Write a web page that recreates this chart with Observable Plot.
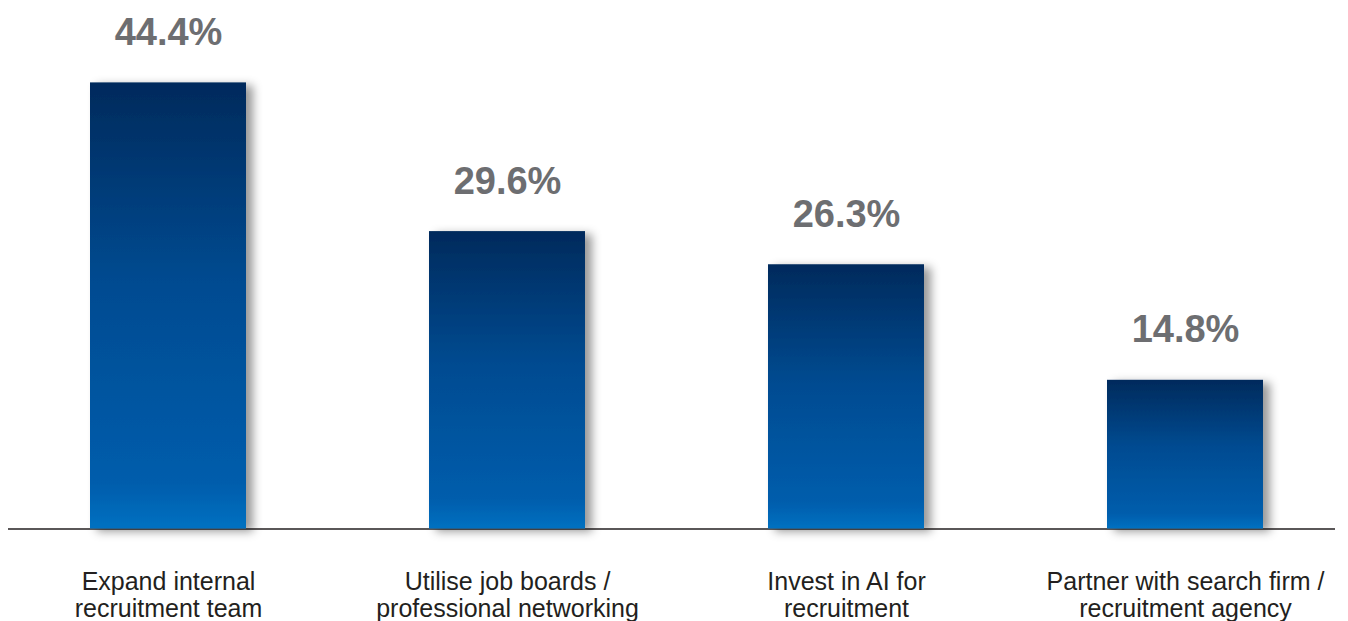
<!DOCTYPE html>
<html>
<head>
<meta charset="utf-8">
<script src="https://cdn.jsdelivr.net/npm/d3@7"></script>
<script src="https://cdn.jsdelivr.net/npm/@observablehq/plot@0.6"></script>
<style>
  html, body { margin: 0; padding: 0; background: #fff; }
  #chart svg { display: block; }
</style>
</head>
<body>
<div id="chart"></div>
<script>
const categories = [
  "Expand internal\nrecruitment team",
  "Utilise job boards /\nprofessional networking",
  "Invest in AI for\nrecruitment",
  "Partner with search firm /\nrecruitment agency"
];
const values = [44.4, 29.6, 26.3, 14.8];
const valueLabels = ["44.4%", "29.6%", "26.3%", "14.8%"];

const data = categories.map((c, i) => ({category: c, value: values[i], label: valueLabels[i]}));

const svg = Plot.plot({
  width: 1348,
  height: 621,
  marginTop: 0,
  marginBottom: 92.5,
  marginLeft: 8,
  marginRight: 13,
  style: {fontFamily: "'Liberation Sans', Arial, sans-serif", background: "#fff"},
  x: {domain: categories, range: [-2.75, 1355.25], paddingInner: 0.54, paddingOuter: 0.27, label: null},
  y: {domain: [0, 52.6], axis: null},
  marks: [
    Plot.ruleY([0], {stroke: "#231f20", strokeWidth: 1.5}),
    Plot.barY(data, {x: "category", y: "value", fill: "#004a8f"}),
    Plot.text(data, {x: "category", y: "value", text: "label", lineAnchor: "bottom", dy: -38,
      fontSize: 38, fontWeight: "bold", fill: "#6d6e71"}),
    Plot.axisX({tickSize: 0, tickPadding: 42, fontSize: 25, lineHeight: 1.08, fill: "#231f20", label: null})
  ]
});

// gradient + shadow defs
const ns = "http://www.w3.org/2000/svg";
const defs = document.createElementNS(ns, "defs");
defs.innerHTML = `
  <linearGradient id="barGrad" x1="0" y1="0" x2="0" y2="1">
    <stop offset="0" stop-color="#002a5c"/>
    <stop offset="0.45" stop-color="#004b91"/>
    <stop offset="0.9" stop-color="#005dac"/>
    <stop offset="1" stop-color="#0071c1"/>
  </linearGradient>
  <filter id="barShadow" x="-20%" y="-20%" width="150%" height="150%">
    <feDropShadow dx="7" dy="3" stdDeviation="5" flood-color="#000" flood-opacity="0.4"/>
  </filter>`;
svg.insertBefore(defs, svg.firstChild);
const barGroup = svg.querySelector('g[aria-label="bar"]');
if (barGroup) {
  barGroup.setAttribute("filter", "url(#barShadow)");
  barGroup.setAttribute("fill", "url(#barGrad)");
  barGroup.querySelectorAll("rect").forEach(r => r.setAttribute("fill", "url(#barGrad)"));
}
document.getElementById("chart").appendChild(svg);
</script>
</body>
</html>
